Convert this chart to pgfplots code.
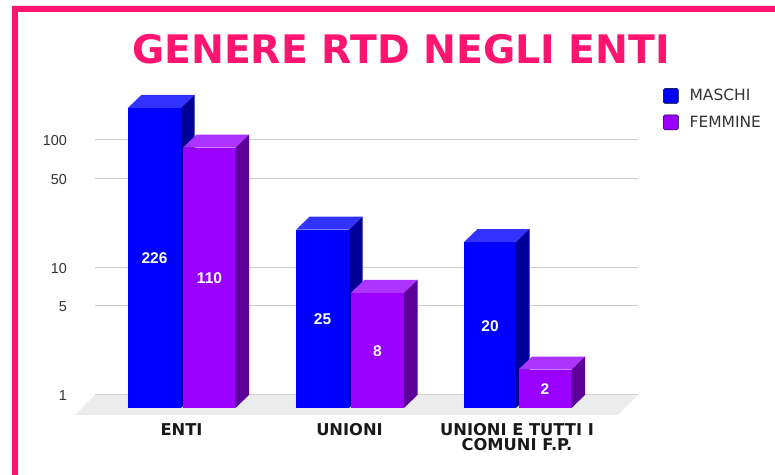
\documentclass[border=0pt]{standalone}
\usepackage{fontspec}
\usepackage{pgfplots}
\pgfplotsset{compat=1.18}
\setmainfont{Liberation Sans}
\newfontfamily\vfont{DejaVu Sans}
\definecolor{pinkb}{HTML}{FF1470}
\definecolor{mF}{HTML}{0000FF}
\definecolor{mT}{HTML}{3333FF}
\definecolor{mS}{HTML}{000099}
\definecolor{fF}{HTML}{9900FF}
\definecolor{fT}{HTML}{AD33FF}
\definecolor{fS}{HTML}{5C0099}
\definecolor{gridc}{HTML}{CCCCCC}
\definecolor{floorc}{HTML}{ECECEC}
\definecolor{txt}{HTML}{333333}
% x0, x1, x0+depth, x1+depth, value, value pushed to the front face, colour prefix
\newcommand{\barbox}[7]{%
  \addplot[fill=#7F, draw=none, forget plot] coordinates {(#1,0.7908) (#2,0.7908) (#2,#6) (#1,#6)} --cycle;
  \addplot[fill=#7T, draw=none, forget plot] coordinates {(#1,#6) (#2,#6) (#4,#5) (#3,#5)} --cycle;
  \addplot[fill=#7S, draw=none, forget plot] coordinates {(#2,0.7908) (#4,1) (#4,#5) (#2,#6)} --cycle;
}
\begin{document}
\begin{tikzpicture}
\begin{axis}[
  scale only axis,
  width=543pt, height=325pt,
  xmin=95, xmax=638,
  ymode=log, ymin=0.6969, ymax=246.8,
  clip=false,
  axis line style={draw=none},
  major tick length=0pt,
  tick style={draw=none},
  ymajorgrids,
  grid style={gridc, line width=1pt},
  ytick={1,5,10,50,100},
  yticklabels={1,5,10,50,100},
  y tick label style={font=\fontsize{14.4}{16}\selectfont, text=txt, anchor=east, inner sep=0pt, xshift=-28pt, yshift=-0.7pt},
  xtick={181.5,349.5,517},
  xticklabels={ENTI,UNIONI,{UNIONI E TUTTI I\\[-1pt]COMUNI F.P.}},
  x tick label style={font=\vfont\bfseries\fontsize{16.3}{16}\selectfont, text=black!90, align=center, anchor=north, inner sep=0pt, yshift=-8pt},
  title={\vfont\bfseries\fontsize{39.3}{41}\selectfont GENERE RTD NEGLI ENTI},
  title style={at={(axis description cs:0.5,1)}, anchor=base, text=pinkb, inner sep=0pt, xshift=34.5pt, yshift=20pt},
  legend image code/.code={\fill[#1, rounded corners=1.5pt] (0pt,-7.5pt) rectangle (15pt,7.5pt);},
  legend cell align=left,
  legend style={at={(axis description cs:1.046,1.006)}, anchor=north west, draw=none, fill=none, inner sep=0pt,
    font=\vfont\fontsize{15.5}{16}\selectfont, text=txt, row sep=11pt,
    nodes={inner sep=0pt}, column sep=11pt},
]
% frame
\addplot[fill=pinkb, draw=none, forget plot] coordinates {(12,0.2358) (12,1125) (775,1125) (775,1009) (18,1009) (18,0.2358)} --cycle;
% floor of the plot
\addplot[fill=floorc, draw=none, forget plot] coordinates {(75,0.6969) (618,0.6969) (638,1) (95,1)} --cycle;
\barbox{128}{181}{141.5}{194.5}{226}{178.7}{m}
\barbox{183}{235.5}{196.5}{249}{110}{87.0}{f}
\barbox{296}{349}{309.5}{362.5}{25}{19.77}{m}
\barbox{351}{404}{364.5}{417.5}{8}{6.33}{f}
\barbox{464}{516}{477.5}{529.5}{20}{15.82}{m}
\barbox{518.5}{571.5}{532}{585}{2}{1.58}{f}
% value labels, in the middle of each front face
\addplot[draw=none, mark=none, forget plot, nodes near coords, point meta=explicit symbolic,
  every node near coord/.style={anchor=center, inner sep=0pt, text=white, yshift=-0.7pt, font=\bfseries\fontsize{15.5}{16}\selectfont}]
  coordinates {(154.5,11.89)[226] (209.5,8.29)[110] (322.5,3.95)[25] (377.5,2.24)[8] (490,3.54)[20] (545,1.118)[2]};
\addlegendimage{fill=mF}
\addlegendentry{MASCHI}
\addlegendimage{fill=fF}
\addlegendentry{FEMMINE}
% page corners
\coordinate (pa) at (axis cs:0,1253);
\coordinate (pb) at (axis cs:775,0.2358);
\end{axis}
\useasboundingbox (pa) rectangle (pb);
\end{tikzpicture}
\end{document}
